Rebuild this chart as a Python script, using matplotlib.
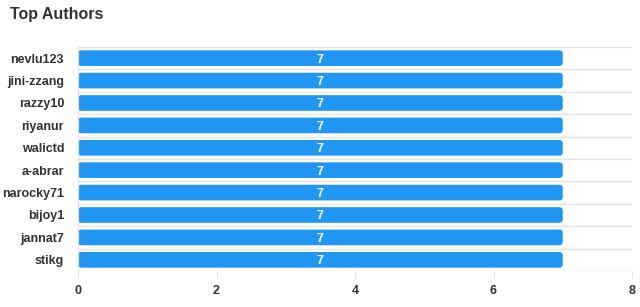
import numpy as np
import matplotlib.pyplot as plt
from matplotlib.patches import FancyBboxPatch

plt.rcParams['font.family'] = ['Liberation Sans', 'DejaVu Sans']

authors = ['nevlu123', 'jini-zzang', 'razzy10', 'riyanur', 'walictd',
           'a-abrar', 'narocky71', 'bijoy1', 'jannat7', 'stikg']
counts = [7, 7, 7, 7, 7, 7, 7, 7, 7, 7]

bar_color = '#2196f3'
grid_color = '#e3e3e3'
text_color = '#333333'

fig = plt.figure(figsize=(6.4, 3.07), dpi=100)
ax = fig.add_axes([78 / 640, 1 - 271 / 307, (632 - 78) / 640, (271 - 47) / 307])

y = np.arange(len(authors))
bars = ax.barh(y, counts, height=0.7, color=bar_color)

ax.set_xlim(0, 8)
ax.set_ylim(len(authors) - 0.5, -0.5)

# rounded corners: swap each bar for a rounded box of the same size
px_x = (632 - 78) / 8
px_y = (271 - 47) / len(authors)
r = 3.5 / px_x
for b in bars:
    b.set_visible(False)
    ax.add_patch(FancyBboxPatch((b.get_x(), b.get_y()), b.get_width(), b.get_height(),
                                boxstyle=f'round,pad=0,rounding_size={r}',
                                mutation_aspect=px_x / px_y,
                                facecolor=bar_color, edgecolor='none', zorder=2))

for yi, v in zip(y, counts):
    ax.text(v / 2, yi + 0.06, str(v), ha='center', va='center', color='white',
            fontsize=9, fontweight='bold', zorder=3)

# category separators
for edge in np.arange(len(authors) + 1) - 0.5:
    ax.axhline(edge, color=grid_color, lw=1, zorder=1)

ax.set_yticks(y)
ax.set_yticklabels(authors)
ax.set_xticks([0, 2, 4, 6, 8])
ax.tick_params(axis='y', length=0, pad=10, labelsize=9, labelcolor=text_color)
ax.tick_params(axis='x', length=5, color=grid_color, pad=5, labelsize=9,
               labelcolor=text_color)
for lbl in ax.get_yticklabels() + ax.get_xticklabels():
    lbl.set_fontweight('bold')

for s in ['top', 'right', 'bottom']:
    ax.spines[s].set_visible(False)
ax.spines['left'].set_color(grid_color)

fig.text(10 / 640, 1 - 14 / 307, 'Top Authors', fontsize=11.5, fontweight='bold',
         color=text_color, ha='left', va='center')

fig.savefig('out.png', dpi=100)
